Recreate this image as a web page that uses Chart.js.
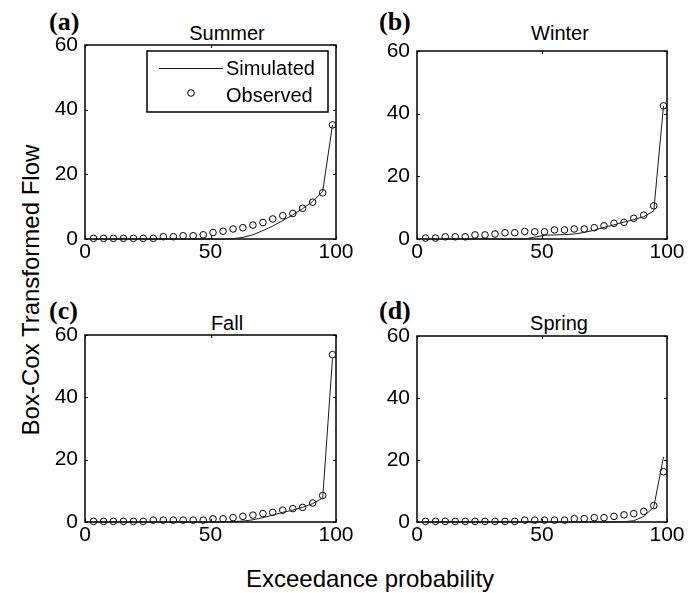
<!DOCTYPE html>
<html>
<head>
<meta charset="utf-8">
<script src="https://cdn.jsdelivr.net/npm/chart.js@4.4.1/dist/chart.umd.min.js"></script>
<style>
  body { margin: 0; background: #fff; }
  #fig { position: relative; width: 695px; height: 593px; overflow: hidden;
         font-family: "Liberation Sans", Arial, Helvetica, sans-serif; color: #000; }
  #fig canvas { position: absolute; }
  .txt { position: absolute; white-space: nowrap; line-height: 1; }
  .tag { font-family: "Liberation Serif", "Times New Roman", serif; font-weight: bold; font-size: 26px; }
  .ttl { font-size: 20px; transform: translateX(-50%); }
  .axl { font-size: 24px; }
</style>
</head>
<body>
<div id="fig">
  <div class="txt tag" style="left:49px;top:9px">(a)</div>
  <div class="txt tag" style="left:379px;top:9px">(b)</div>
  <div class="txt tag" style="left:49px;top:298px">(c)</div>
  <div class="txt tag" style="left:379px;top:298px">(d)</div>
  <div class="txt ttl" id="t0" style="left:227px;top:23px"></div>
  <div class="txt ttl" id="t1" style="left:560px;top:23px"></div>
  <div class="txt ttl" id="t2" style="left:227px;top:313px"></div>
  <div class="txt ttl" id="t3" style="left:559px;top:313px"></div>
  <div class="txt axl" style="left:370px;top:567px;transform:translateX(-50%)">Exceedance probability</div>
  <div class="txt axl" style="left:31px;top:290px;transform:translate(-50%,-50%) rotate(-90deg)">Box-Cox Transformed Flow</div>
</div>

<script>
// --- datos ---
const exceedance = [3.4, 7.4, 11.3, 15.3, 19.3, 23.2, 27.2, 31.2, 35.2, 39.1, 43.1, 47.1, 51.0,
                    55.0, 59.0, 62.9, 66.9, 70.9, 74.8, 78.8, 82.8, 86.7, 90.7, 94.7, 98.6];

const summerObs = [0.2, 0.2, 0.2, 0.2, 0.2, 0.2, 0.2, 0.7, 0.7, 1.0, 1.0, 1.3, 2.0,
                   2.4, 3.1, 3.5, 4.3, 5.1, 6.2, 7.2, 7.9, 9.5, 11.4, 14.3, 35.3];
const summerSim = [0, 0, 0, 0, 0, 0, 0, 0, 0, 0, 0, 0, 0,
                   0, 0.1, 0.5, 1.3, 2.6, 4.0, 5.7, 7.5, 9.4, 11.6, 14.7, 35.3];

const winterObs = [0.3, 0.3, 0.7, 0.7, 0.7, 1.3, 1.3, 1.6, 2.0, 2.0, 2.4, 2.3, 2.3,
                   2.9, 2.9, 3.2, 3.2, 3.6, 4.2, 5.0, 5.3, 6.6, 7.6, 10.6, 42.5];
const winterSim = [0, 0, 0, 0, 0, 0, 0, 0, 0, 0, 0, 0.6, 1.2,
                   1.3, 1.4, 1.6, 2.1, 2.8, 3.7, 4.5, 5.4, 6.2, 7.1, 9.0, 42.5];

const fallObs = [0.2, 0.2, 0.2, 0.2, 0.2, 0.2, 0.6, 0.6, 0.6, 0.6, 0.6, 0.6, 1.0,
                 1.0, 1.4, 1.8, 2.2, 2.7, 3.1, 3.8, 4.3, 4.7, 6.1, 8.5, 53.7];
const fallSim = [0, 0, 0, 0, 0, 0, 0, 0, 0, 0, 0, 0, 0,
                 0.05, 0.1, 0.3, 0.7, 1.4, 2.2, 3.1, 3.8, 4.7, 5.9, 7.7, 52.5];

const springObs = [0.2, 0.2, 0.2, 0.2, 0.2, 0.2, 0.2, 0.2, 0.2, 0.2, 0.6, 0.6, 0.6,
                   0.6, 0.6, 1.1, 1.1, 1.4, 1.4, 1.8, 2.3, 2.7, 3.4, 5.3, 16.2];
const springSim = [0, 0, 0, 0, 0, 0, 0, 0, 0, 0, 0, 0, 0,
                   0, 0, 0, 0, 0, 0, 0, 0.1, 0.4, 1.8, 4.8, 21.0];

const seasonNames = ['Summer', 'Winter', 'Fall', 'Spring'];
const seriesNames = ['Simulated', 'Observed'];
const xTickValues = [0, 50, 100];
const yTickValues = [0, 20, 40, 60];

// --- geometría de los paneles (área de trazado en px de la página) ---
const panels = [
  { L: 85,  T: 45,  R: 336, B: 239 },
  { L: 417, T: 51,  R: 667, B: 239 },
  { L: 85,  T: 335, R: 336, B: 522 },
  { L: 417, T: 336, R: 667, B: 522 }
];
const PAD_L = 50, PAD_T = 20, PAD_R = 25, PAD_B = 40;
const FONT = '"Liberation Sans", Arial, Helvetica, sans-serif';

// marco completo + ticks hacia adentro (estilo MATLAB)
const framePlugin = {
  id: 'frame',
  beforeDatasetsDraw(chart) {
    const { ctx, chartArea: a, scales: { x, y } } = chart;
    ctx.save();
    ctx.strokeStyle = '#000';
    ctx.lineWidth = 1;
    ctx.beginPath();
    xTickValues.forEach(v => {
      const px = Math.round(x.getPixelForValue(v)) + 0.5;
      ctx.moveTo(px, a.bottom); ctx.lineTo(px, a.bottom - 3);
      ctx.moveTo(px, a.top); ctx.lineTo(px, a.top + 3);
    });
    yTickValues.forEach(v => {
      const py = Math.round(y.getPixelForValue(v)) + 0.5;
      ctx.moveTo(a.left, py); ctx.lineTo(a.left + 3, py);
      ctx.moveTo(a.right, py); ctx.lineTo(a.right - 3, py);
    });
    ctx.stroke();
    ctx.lineWidth = 1.5;
    ctx.strokeRect(a.left, a.top, a.right - a.left, a.bottom - a.top);
    ctx.restore();
  }
};

// leyenda dentro del panel (a)
const legendPlugin = {
  id: 'boxLegend',
  afterDatasetsDraw(chart) {
    const { ctx, chartArea: a } = chart;
    const ds = chart.data.datasets;
    ctx.save();
    ctx.fillStyle = '#fff';
    ctx.fillRect(a.left + 62, a.top + 6, a.right - a.left - 70, 61);
    ctx.strokeStyle = '#000';
    ctx.lineWidth = 1.5;
    ctx.strokeRect(a.left + 62, a.top + 6, a.right - a.left - 70, 61);
    // muestra de línea
    ctx.strokeStyle = ds[0].borderColor;
    ctx.lineWidth = ds[0].borderWidth;
    ctx.beginPath();
    ctx.moveTo(a.left + 74, a.top + 23.5);
    ctx.lineTo(a.left + 138, a.top + 23.5);
    ctx.stroke();
    // muestra de marcador
    ctx.strokeStyle = '#000';
    ctx.lineWidth = 1;
    ctx.beginPath();
    ctx.arc(a.left + 106, a.top + 48, ds[1].pointRadius, 0, Math.PI * 2);
    ctx.stroke();
    ctx.fillStyle = '#000';
    ctx.font = '20px ' + FONT;
    ctx.textBaseline = 'alphabetic';
    ctx.fillText(ds[0].label, a.left + 141, a.top + 30);
    ctx.fillText(ds[1].label, a.left + 141, a.top + 57);
    ctx.restore();
  }
};

function buildPanel(idx, obs, sim) {
  const p = panels[idx];
  const fig = document.getElementById('fig');
  const canvas = document.createElement('canvas');
  canvas.width = p.R - p.L + PAD_L + PAD_R;
  canvas.height = p.B - p.T + PAD_T + PAD_B;
  canvas.style.left = (p.L - PAD_L) + 'px';
  canvas.style.top = (p.T - PAD_T) + 'px';
  fig.appendChild(canvas);
  document.getElementById('t' + idx).textContent = seasonNames[idx];

  const tickFont = { family: FONT, size: 21 };
  return new Chart(canvas.getContext('2d'), {
    type: 'line',
    data: {
      datasets: [
        {
          label: seriesNames[0],
          data: exceedance.map((x, i) => ({ x, y: sim[i] })),
          borderColor: '#1a1a1a',
          borderWidth: 1,
          pointRadius: 0,
          fill: false,
          tension: 0,
          clip: 6
        },
        {
          label: seriesNames[1],
          data: exceedance.map((x, i) => ({ x, y: obs[i] })),
          showLine: false,
          pointStyle: 'circle',
          pointRadius: 3.3,
          pointBorderWidth: 1,
          pointBorderColor: '#000',
          pointBackgroundColor: 'rgba(0,0,0,0)',
          borderColor: '#000',
          backgroundColor: 'rgba(0,0,0,0)',
          clip: 6
        }
      ]
    },
    options: {
      responsive: false,
      animation: false,
      events: [],
      layout: { padding: { top: PAD_T, right: PAD_R, left: 0, bottom: 0 } },
      plugins: { legend: { display: false }, tooltip: { enabled: false } },
      scales: {
        x: {
          type: 'linear', min: 0, max: 100,
          grid: { display: false, drawTicks: false },
          border: { display: false },
          ticks: { padding: 1, color: '#000', font: tickFont, maxRotation: 0, autoSkip: false },
          afterBuildTicks: s => { s.ticks = xTickValues.map(v => ({ value: v })); },
          afterFit: s => { s.height = PAD_B; }
        },
        y: {
          type: 'linear', min: 0, max: 60,
          grid: { display: false, drawTicks: false },
          border: { display: false },
          ticks: { padding: 7, color: '#000', font: tickFont, autoSkip: false },
          afterBuildTicks: s => { s.ticks = yTickValues.map(v => ({ value: v })); },
          afterFit: s => { s.width = PAD_L; }
        }
      }
    },
    plugins: idx === 0 ? [framePlugin, legendPlugin] : [framePlugin]
  });
}

buildPanel(0, summerObs, summerSim);
buildPanel(1, winterObs, winterSim);
buildPanel(2, fallObs, fallSim);
buildPanel(3, springObs, springSim);
</script>
</body>
</html>
